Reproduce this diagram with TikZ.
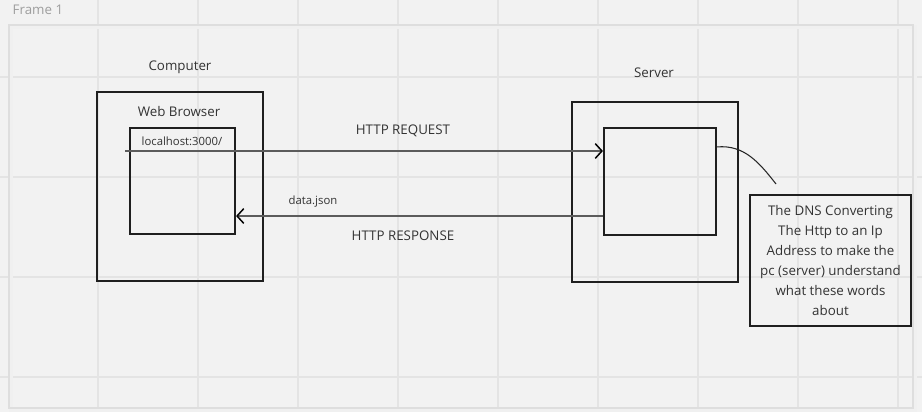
\documentclass[tikz,border=0pt]{standalone}
\usepackage{fontspec}
\setmainfont{Open Sans}
\usepackage{tikz}
\usetikzlibrary{arrows.meta}
\definecolor{canvas}{HTML}{F2F2F2}
\definecolor{gridline}{HTML}{E4E4E4}
\definecolor{ink}{HTML}{333333}
\definecolor{wire}{HTML}{5C5C5C}
\tikzstyle{box} = [draw=black!88, line width=1.6pt, inner sep=0pt]
\tikzstyle{label} = [text=ink, font=\fontsize{10}{12}\selectfont, inner sep=1pt]
\tikzstyle{small} = [text=ink, font=\fontsize{8.5}{10}\selectfont, inner sep=1pt]
\tikzstyle{conn} = [draw=wire, line width=1pt, -{Straight Barb[length=5pt, width=11pt, line width=1.1pt, color=black]}]

\begin{document}
\begin{tikzpicture}[x=0.75pt, y=-0.75pt]
						\useasboundingbox (0,0) rectangle (922,412);
						\fill[canvas] (0,0) rectangle (922,412);
						% canvas grid
						\foreach \gx in {98,198,...,898}
							\draw[gridline, line width=0.8pt] (\gx,0) -- (\gx,412);
						\foreach \gy in {77,177,277,377}
							\draw[gridline, line width=0.8pt] (0,\gy) -- (922,\gy);
						% frame
						\draw[black!6, line width=3pt] (11,27) rectangle (915,410);
						\draw[black!13, line width=1pt] (9,25) rectangle (913,408);
						\node[text=black!38, font=\fontsize{10}{12}\selectfont, anchor=west](frametitle) at (8,10){Frame 1};
						
						\node[box, minimum width=124.5pt, minimum height=141.75pt](computer) at (180,186.5){};
						\node[box, minimum width=78.75pt, minimum height=79.5pt](browser) at (182.5,181){};
						\node[box, minimum width=124.5pt, minimum height=135pt](server) at (655,192){};
						\node[box, minimum width=84pt, minimum height=80.25pt](srvinner) at (660,181.5){};
						\node[box, minimum width=120.75pt, minimum height=98.25pt, label, align=center, font=\fontsize{10}{15}\selectfont](dns) at (830.5,260.5){The DNS Converting\\The Http to an Ip\\Address to make the\\pc (server) understand\\what these words\\about};
						
						\node[label](comptitle) at (180,67){Computer};
						\node[label](browsertitle) at (179,111){Web Browser};
						\node[label](servertitle) at (654,73){Server};
						\node[small](url) at (182,141){localhost:3000/};
						\node[label](request) at (403,131){HTTP REQUEST};
						\node[label](response) at (403,236){HTTP RESPONSE};
						\node[small](payload) at (313,202){data.json};
						
						\coordinate(reqstart) at (125,151);
						\coordinate(resp) at (420,216);
						\coordinate(dnsend) at (776,184);
						\draw[conn](reqstart) -- (reqstart -| srvinner.west);
						\draw[conn](resp -| srvinner.west) -- (resp -| browser.east);
						\draw[black!85, line width=0.8pt]([yshift=-15pt]srvinner.north east) to[out=5, in=128] (dnsend);
					\end{tikzpicture}
\end{document}
